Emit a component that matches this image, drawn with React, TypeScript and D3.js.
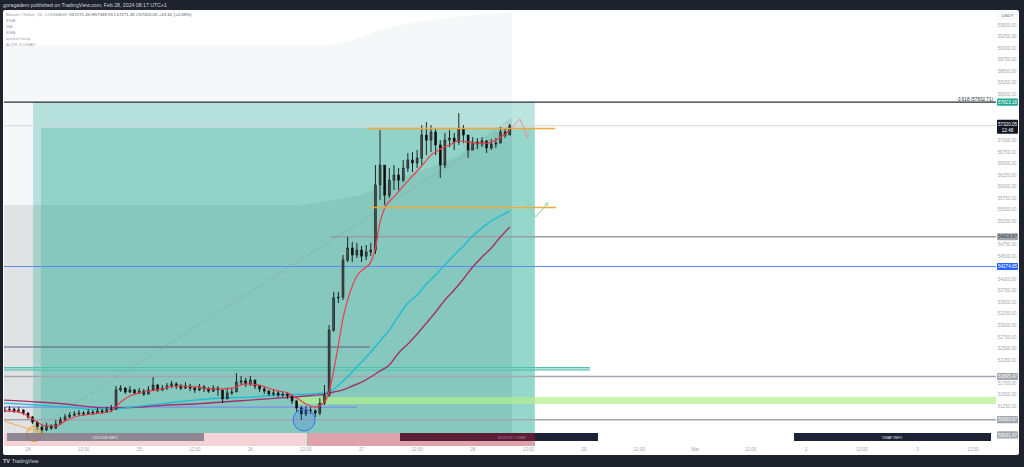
import React from "react";
import * as d3 from "d3";

const W = 1024;
const H = 467;

// time = hours since 2024-02-24 00:00, 15m chart (read at hourly resolution)
const candleStart = -5;
const firstOpen = 51150;
const closes = [
  51170, 51190, 51150, 51170, 51105, 51020, 50910, 50800, 50740, 50825, 50780, 50865, 50955, 51020, 51060, 51085,
  51105, 51085, 51125, 51105, 51150, 51125, 51170, 51190, 51605, 51645, 51560, 51605, 51540, 51580, 51515, 51605,
  51710, 51605, 51645, 51690, 51735, 51690, 51645, 51690, 51645, 51605, 51670, 51625, 51580, 51645, 51605, 51410,
  51540, 51560, 51775, 51800, 51735, 51820, 51690, 51625, 51580, 51515, 51540, 51495, 51515, 51475, 51365, 51215,
  51085, 51170, 51150, 51105, 51320, 51495, 52900, 53595, 53615, 54415, 54675, 54525, 54630, 54500, 54590, 54630,
  56040, 56470, 55820, 56145, 56255, 56145, 56405, 56580, 56515, 56620, 57120, 57010, 57185, 56905, 56470, 57010,
  57055, 56970, 57270, 57120, 56795, 56970, 56925, 56990, 56840, 56925, 56945, 57185, 57120, 57320,
];
const highs = [
  51235, 51255, 51215, 51235, 51190, 51125, 51040, 50930, 50845, 50890, 50865, 50955, 51020, 51085, 51125, 51150,
  51170, 51150, 51190, 51170, 51215, 51190, 51235, 51280, 51690, 51710, 51670, 51690, 51625, 51645, 51625, 51690,
  51885, 51735, 51710, 51755, 51800, 51775, 51735, 51775, 51735, 51690, 51735, 51710, 51670, 51710, 51690, 51605,
  51625, 51645, 51970, 51905, 51865, 51905, 51800, 51710, 51670, 51605, 51625, 51580, 51580, 51560, 51495, 51385,
  51255, 51255, 51235, 51190, 51430, 51710, 53010, 53725, 53725, 54525, 54915, 54805, 54785, 54720, 54740, 54785,
  56470, 57230, 56470, 56405, 56470, 56405, 56580, 56730, 56750, 56795, 57335, 57400, 57335, 57270, 57010, 57165,
  57230, 57165, 57595, 57335, 57120, 57075, 57055, 57075, 57010, 57030, 57055, 57295, 57270, 57360,
];
const lows = [
  51125, 51125, 51105, 51105, 51060, 50975, 50865, 50740, 50675, 50715, 50740, 50760, 50865, 50930, 50995, 51040,
  51040, 51040, 51060, 51060, 51085, 51085, 51105, 51125, 51170, 51560, 51515, 51540, 51495, 51515, 51475, 51540,
  51580, 51560, 51580, 51605, 51645, 51625, 51605, 51625, 51580, 51540, 51580, 51560, 51540, 51560, 51475, 51320,
  51410, 51495, 51560, 51710, 51670, 51690, 51625, 51560, 51515, 51475, 51475, 51450, 51450, 51410, 51300, 51125,
  50955, 51040, 51085, 51020, 51060, 51280, 51450, 52860, 53485, 53550, 54370, 54370, 54460, 54370, 54415, 54500,
  54545, 55715, 55605, 55755, 55930, 55930, 56105, 56320, 56320, 56405, 56470, 56685, 56750, 56685, 56190, 56405,
  56860, 56795, 56905, 56945, 56620, 56795, 56815, 56860, 56730, 56795, 56840, 56970, 57055, 57140,
];

// moving averages: [hour, price]
const emaFast: [number, number][] = [
  [-5.2, 51150], [-2, 51125], [0, 51040], [2, 50910], [4, 50825], [6, 50825], [8, 50930], [10, 51020], [14, 51085],
  [18, 51150], [20, 51345], [22, 51475], [24, 51540], [28, 51605], [32, 51690], [36, 51670], [40, 51625], [44, 51645],
  [47, 51735], [50, 51710], [53, 51605], [56, 51540], [58, 51430], [60, 51300], [62, 51235], [64, 51345], [65, 51560],
  [66, 52035], [67, 52575], [68, 53160], [69, 53550], [71, 54070], [73, 54265], [74, 54370], [75, 54675], [76, 55240],
  [77, 55540], [79, 55780], [81, 56015], [83, 56235], [85, 56450], [87, 56685], [89, 56815], [91, 56905], [93, 56990],
  [95, 56970], [97, 56945], [99, 56945], [101, 57010], [103, 57140], [104, 57230],
];
const maCyan: [number, number][] = [
  [-5.2, 51320], [2, 51280], [8, 51235], [14, 51190], [18, 51190], [24, 51255], [30, 51320], [36, 51385], [42, 51430],
  [48, 51450], [54, 51495], [60, 51515], [64, 51540], [66, 51625], [68, 51800], [70, 51995], [72, 52210], [74, 52425],
  [76, 52665], [78, 52900], [80, 53205], [82, 53485], [84, 53660], [86, 53895], [88, 54090], [90, 54310], [92, 54525],
  [94, 54720], [96, 54935], [98, 55110], [100, 55260], [102, 55370], [104, 55475],
];
const emaSlow: [number, number][] = [
  [-5.2, 51385], [2, 51345], [8, 51300], [14, 51235], [18, 51215], [24, 51235], [30, 51280], [36, 51300], [42, 51345],
  [48, 51385], [54, 51430], [60, 51475], [64, 51515], [66, 51560], [68, 51605], [70, 51690], [72, 51775], [74, 51885],
  [76, 52015], [78, 52145], [80, 52405], [82, 52600], [84, 52815], [86, 53050], [88, 53290], [90, 53550], [92, 53765],
  [94, 54005], [96, 54265], [98, 54480], [100, 54675], [102, 54915], [104, 55130],
];

// anchored VWAP band fills (upper boundaries)
const bandOuter: [number, number][] = [
  [-5.2, 59067], [64, 59067], [70, 59175], [76, 59392], [84, 59565], [94, 59695], [104.5, 59781],
];
const bandInner: [number, number][] = [
  [-5.2, 55605], [58, 55605], [66, 55714], [73, 55865], [79, 56146], [87, 56428], [93, 56687], [99, 57120], [104.5, 57510],
];

// levels
const FIB_3618 = 57832.71;
const LAST_PRICE = 57320.05;
const LEVEL_GRAY_1 = 54918.87;
const LEVEL_BLUE = 54274.85;
const LEVEL_GRAY_2 = 51895.47;
const LEVEL_GRAY_3 = 50960.87;
const LEVEL_GRAY_4 = 50631.47;
const ORANGE_HIGH = 57261;
const ORANGE_LOW = 55551;
const SLATE_LEVEL = 52533;
const TEAL_LEVEL_A = 52090;
const TEAL_LEVEL_B = 52036;
const LAVENDER_LEVEL = 51235;
const GREEN_ZONE = [51300, 51451];
const BOX_BOTTOM = 50673;
const BOX_ENTRY = 57271;
const BOX_TIME = [1.1, 2.8, 109.4];
const DIAGONAL: [number, number][] = [[3, 50850], [104, 57300]];
const ORANGE_TREND: [number, number][] = [[-5.2, 50932], [5.8, 50586]];
const RED_PROJECTION: [number, number][] = [[104.5, 57290], [106.2, 57466], [107.9, 57077]];
const GREEN_PROJECTION: [number, number][] = [[107.5, 55714], [109.6, 55346], [112.2, 55649]];
const BLUE_CIRCLE: [number, number] = [59.6, 50954];
const ORANGE_CIRCLE: [number, number] = [1.3, 50650];

const priceTicks = d3.range(50500, 59501, 250);
const timeTickLabels = ["24", "12:00", "25", "12:00", "26", "12:00", "27", "12:00", "28", "12:00", "29", "12:00", "Mar", "12:00", "2", "12:00", "3", "12:00"];
const labelledPrices = [FIB_3618, LEVEL_GRAY_1, LEVEL_BLUE, LEVEL_GRAY_2, LEVEL_GRAY_3, LEVEL_GRAY_4];

const FONT = "'Liberation Sans', Arial, sans-serif";

export default function App() {
  const x = d3.scaleLinear().domain([0, 204]).range([28, 973]);
  const y = d3.scaleLinear().domain([50500, 59500]).range([441, 25]);
  const L = 4;
  const R = 996;
  const plotBottom = 446;

  const line = d3
    .line<[number, number]>()
    .x((d) => x(d[0]))
    .y((d) => y(d[1]))
    .curve(d3.curveMonotoneX);
  const straight = d3
    .line<[number, number]>()
    .x((d) => x(d[0]))
    .y((d) => y(d[1]));
  const bandArea = d3
    .area<[number, number]>()
    .x((d) => x(d[0]))
    .y0(plotBottom)
    .y1((d) => y(d[1]))
    .curve(d3.curveMonotoneX);

  const candles = closes.map((c, i) => ({
    t: candleStart + i,
    o: i === 0 ? firstOpen : closes[i - 1],
    c,
    h: highs[i],
    l: lows[i],
  }));
  const bw = 2;

  const visibleTicks = priceTicks.filter((p) => {
    const yy = y(p);
    if (labelledPrices.some((lp) => Math.abs(y(lp) - yy) < 6.5)) return false;
    const ly = y(LAST_PRICE);
    if (yy > ly - 9 && yy < ly + 11) return false;
    if (yy < 20) return false;
    return true;
  });

  const hLine = (p: number, x0: number, x1: number, color: string, w: number) => (
    <line x1={x0} x2={x1} y1={y(p)} y2={y(p)} stroke={color} strokeWidth={w} />
  );

  const priceLabel = (p: number, text: string, bg: string, fg: string) => (
    <g key={text}>
      <rect x={997} y={y(p) - 3.6} width={21} height={7.2} fill={bg} rx={0.8} />
      <text x={1007.5} y={y(p) + 1.7} fontSize={4.6} fill={fg} textAnchor="middle" fontFamily={FONT}>
        {text}
      </text>
    </g>
  );

  return (
    <div style={{ position: "fixed", left: 0, top: 0, width: W, height: H }}>
      <svg width={W} height={H} style={{ display: "block" }}>
        <defs>
          <clipPath id="plot">
            <rect x={L} y={10} width={R - L} height={plotBottom - 10} />
          </clipPath>
          <marker id="arrRed" viewBox="0 0 6 6" refX="5" refY="3" markerWidth="4" markerHeight="4" orient="auto">
            <path d="M0,0 L6,3 L0,6" fill="none" stroke="#f08a92" strokeWidth="1" />
          </marker>
          <marker id="arrGreen" viewBox="0 0 6 6" refX="5" refY="3" markerWidth="4" markerHeight="4" orient="auto">
            <path d="M0,0 L6,3 L0,6" fill="none" stroke="#8fd29a" strokeWidth="1" />
          </marker>
        </defs>

        <rect x={0} y={0} width={W} height={H} fill="#1e222d" />
        <text x={3} y={6.5} fontSize={5.2} fill="#d1d4dc" fontFamily={FONT}>
          goragadem published on TradingView.com, Feb 28, 2024 08:17 UTC+1
        </text>
        <rect x={3} y={10} width={1016} height={445} fill="#ffffff" rx={2} />

        <g clipPath="url(#plot)">
          {/* VWAP band fills */}
          <path d={bandArea(bandOuter) || ""} fill="#f6f7f9" />
          <path d={bandArea(bandInner) || ""} fill="#e1e2e4" />

          {/* box */}
          <rect
            x={x(BOX_TIME[0])}
            y={y(FIB_3618)}
            width={x(BOX_TIME[2]) - x(BOX_TIME[0])}
            height={y(BOX_BOTTOM) - y(FIB_3618)}
            fill="rgba(34,171,148,0.3)"
          />
          <rect
            x={x(BOX_TIME[1])}
            y={y(BOX_ENTRY)}
            width={x(BOX_TIME[2]) - x(BOX_TIME[1])}
            height={y(BOX_BOTTOM) - y(BOX_ENTRY)}
            fill="rgba(34,171,148,0.25)"
          />

          {/* pink strip */}
          <rect x={L} y={433} width={304} height={13} fill="#f4d3d7" />
          <rect x={308} y={433} width={227} height={13} fill="#dea3aa" />
          <line x1={307.5} x2={307.5} y1={420} y2={446} stroke="#7fb9ad" strokeWidth={0.8} />

          {/* horizontal levels */}
          {hLine(LAST_PRICE, L, R, "#d1d4dc", 1)}
          {hLine(FIB_3618, L, R, "#2a2e39", 1.3)}
          {hLine(LEVEL_GRAY_1, x(65.2), R, "#9a9da5", 1.4)}
          {hLine(LEVEL_BLUE, L, R, "#5b8cf0", 1)}
          {hLine(SLATE_LEVEL, L, x(73.8), "#556080", 1)}
          {hLine(TEAL_LEVEL_A, L, x(121.3), "#3fb8a4", 1)}
          {hLine(TEAL_LEVEL_B, L, x(121.3), "#3fb8a4", 1)}
          <rect
            x={L}
            y={y(TEAL_LEVEL_A)}
            width={x(121.3) - L}
            height={y(TEAL_LEVEL_B) - y(TEAL_LEVEL_A)}
            fill="rgba(120,210,195,0.6)"
          />
          {hLine(LEVEL_GRAY_2, L, R, "#a3a6ae", 1.4)}
          <rect
            x={x(58.1)}
            y={y(GREEN_ZONE[1])}
            width={R - x(58.1)}
            height={y(GREEN_ZONE[0]) - y(GREEN_ZONE[1])}
            fill="rgba(178,240,140,0.7)"
          />
          {hLine(LAVENDER_LEVEL, L, x(71), "#7c8ce8", 1.2)}
          {hLine(LEVEL_GRAY_3, L, R, "#a3a6ae", 1.4)}

          {/* diagonal */}
          <path d={straight(DIAGONAL) || ""} stroke="#8e9299" strokeWidth={0.8} strokeDasharray="1.5,2" fill="none" />
          <path d={straight(ORANGE_TREND) || ""} stroke="#f0a040" strokeWidth={0.8} fill="none" />

          {/* moving averages */}
          <path d={line(emaSlow) || ""} stroke="#a3306e" strokeWidth={1.4} fill="none" />
          <path d={line(maCyan) || ""} stroke="#1fbcd2" strokeWidth={1.4} fill="none" />

          {/* candles */}
          {candles.map((d) => {
            const up = d.c >= d.o;
            const top = y(Math.max(d.o, d.c));
            const bot = y(Math.min(d.o, d.c));
            return (
              <g key={d.t}>
                <line x1={x(d.t)} x2={x(d.t)} y1={y(d.h)} y2={y(d.l)} stroke="#111" strokeWidth={0.9} />
                <rect
                  x={x(d.t) - bw / 2}
                  y={top}
                  width={bw}
                  height={Math.max(0.8, bot - top)}
                  fill={up ? "#4a4a4a" : "#0c0c0c"}
                  stroke="#0c0c0c"
                  strokeWidth={0.5}
                />
              </g>
            );
          })}

          <path d={line(emaFast) || ""} stroke="#ee3b4a" strokeWidth={1.2} fill="none" />

          {/* orange levels on top */}
          {hLine(ORANGE_HIGH, x(73.2), x(113.8), "#f2a93b", 1.5)}
          {hLine(ORANGE_LOW, x(73.8), x(114), "#f2a93b", 1.5)}

          {/* projections */}
          <path d={straight(RED_PROJECTION) || ""} stroke="#f08a92" strokeWidth={1} fill="none" markerEnd="url(#arrRed)" />
          <path d={straight(GREEN_PROJECTION) || ""} stroke="#8fd29a" strokeWidth={1} fill="none" markerEnd="url(#arrGreen)" />

          {/* circles */}
          <circle cx={x(BLUE_CIRCLE[0])} cy={y(BLUE_CIRCLE[1])} r={11} fill="rgba(41,98,255,0.18)" stroke="#3a6ff0" strokeWidth={1} />
          <circle cx={x(ORANGE_CIRCLE[0])} cy={y(ORANGE_CIRCLE[1])} r={7.5} fill="rgba(255,165,0,0.15)" stroke="#f0a030" strokeWidth={1} />

          {/* info tables */}
          <rect x={7} y={433} width={197} height={8} fill="rgba(110,110,125,0.75)" />
          <text x={105} y={438.7} fontSize={3.6} fill="#f0f0f0" textAnchor="middle" fontFamily={FONT}>
            COLOUR INFO
          </text>
          <rect x={400} y={433} width={135} height={8} fill="#5a1f37" />
          <text x={512} y={438.7} fontSize={3.6} fill="#b07090" textAnchor="middle" fontFamily={FONT}>
            MONTHLY VWAP
          </text>
          <rect x={535} y={433} width={63} height={8} fill="#1e2236" />
          <rect x={794} y={433} width={197} height={8} fill="#1e2236" />
          <text x={892} y={438.7} fontSize={3.6} fill="#e0e0e0" textAnchor="middle" fontFamily={FONT}>
            VWAP INFO
          </text>
        </g>

        {/* fib label */}
        <text x={993} y={100.5} fontSize={4.6} fill="#2a2e39" textAnchor="end" fontFamily={FONT}>
          -3.618 ({FIB_3618.toFixed(2)})
        </text>

        {/* legend */}
        <text x={6} y={15.5} fontSize={4.4} fill="#9598a1" fontFamily={FONT}>
          Bitcoin / Tether, 15, COINBASE
          <tspan fill="#50535e"> O57271.45 H57339.55 L57271.45 C57320.05 +53.62 (+0.09%)</tspan>
        </text>
        {["EMA", "MA", "EMA", "anchorVwap", "AOTF 3 VWAP"].map((s, i) => (
          <text key={i} x={6} y={21.5 + i * 6} fontSize={4.4} fill="#a3a6af" fontFamily={FONT}>
            {s}
          </text>
        ))}

        {/* price axis */}
        {visibleTicks.map((p) => (
          <text key={p} x={1016.5} y={y(p) + 1.6} fontSize={4.5} fill="#a3a6af" textAnchor="end" fontFamily={FONT}>
            {p.toFixed(2)}
          </text>
        ))}
        <rect x={998} y={12} width={19} height={7} fill="#ffffff" stroke="#e0e3eb" strokeWidth={0.6} rx={0.8} />
        <text x={1007.5} y={17} fontSize={4.4} fill="#50535e" textAnchor="middle" fontFamily={FONT}>
          USDT
        </text>
        {priceLabel(FIB_3618, "57823.18", "#22ab94", "#ffffff")}
        {priceLabel(LEVEL_GRAY_1, LEVEL_GRAY_1.toFixed(2), "#a3a6ae", "#3a3d46")}
        {priceLabel(LEVEL_BLUE, LEVEL_BLUE.toFixed(2), "#2962ff", "#ffffff")}
        {priceLabel(LEVEL_GRAY_2, LEVEL_GRAY_2.toFixed(2), "#a3a6ae", "#ffffff")}
        {priceLabel(LEVEL_GRAY_3, LEVEL_GRAY_3.toFixed(2), "#a3a6ae", "#ffffff")}
        {priceLabel(LEVEL_GRAY_4, LEVEL_GRAY_4.toFixed(2), "#a3a6ae", "#ffffff")}
        <g>
          <rect x={997} y={y(LAST_PRICE) - 6} width={21} height={14} fill="#131722" rx={0.8} />
          <text x={1007.5} y={y(LAST_PRICE) + 0.4} fontSize={4.6} fill="#ffffff" textAnchor="middle" fontFamily={FONT}>
            {LAST_PRICE.toFixed(2)}
          </text>
          <text x={1007.5} y={y(LAST_PRICE) + 6} fontSize={4.6} fill="#ffffff" textAnchor="middle" fontFamily={FONT}>
            12:48
          </text>
        </g>

        {/* time axis */}
        {timeTickLabels.map((s, i) => (
          <text key={i} x={x(i * 12)} y={451} fontSize={4.5} fill="#a3a6af" textAnchor="middle" fontFamily={FONT}>
            {s}
          </text>
        ))}

        {/* footer */}
        <text x={3} y={463} fontSize={5.5} fill="#d1d4dc" fontWeight="bold" fontFamily={FONT}>
          TV
        </text>
        <text x={12} y={463} fontSize={4.8} fill="#d1d4dc" fontFamily={FONT}>
          TradingView
        </text>
      </svg>
    </div>
  );
}
